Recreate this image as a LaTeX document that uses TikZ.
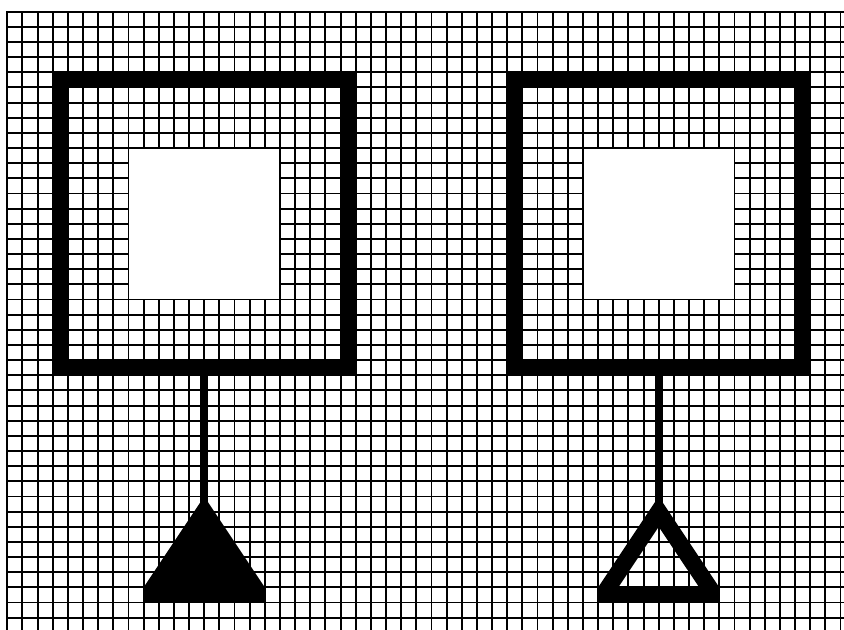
\documentclass[tikz,border=0pt]{standalone}
\usetikzlibrary{positioning}
\tikzset{gridline/.style={line width=1.8pt,black,line cap=rect},
  frame/.style={draw=black,line width=0.5cm,minimum size=9.5cm,inner sep=0pt},
  window/.style={draw=black,fill=white,line width=1.8pt,minimum size=5cm,inner sep=0pt},
  stem/.style={line width=0.25cm,black},
  weight/.style={fill=black,even odd rule}}

\begin{document}
\begin{tikzpicture}[x=0.5cm, y=-0.5cm]
\useasboundingbox (-0.48,-0.77) rectangle (55.23,40.81);
% squared paper
\foreach \c in {0,...,55} \draw[gridline] (\c,0) -- (\c,41.5);
\foreach \r in {0,...,41} \draw[gridline] (0,\r) -- (56,\r);
% left: box with filled weight
\node[window] (winL) at (13,14) {};
\node[frame] (boxL) at (13,14) {};
\coordinate (tipL) at (13,32.4);
\draw[stem] (boxL.south) -- (tipL);
\fill[weight] (9,39) -- (9,38) -- (13,32) -- (17,38) -- (17,39) -- cycle;
% right: box with open weight
\node[window] (winR) at (43,14) {};
\node[frame] (boxR) at (43,14) {};
\coordinate (tipR) at (43,32.4);
\draw[stem] (boxR.south) -- (tipR);
\fill[weight] (39,39) -- (39,38) -- (43,32) -- (47,38) -- (47,39) -- cycle
  (40.33,38) -- (43,34) -- (45.67,38) -- cycle;
\end{tikzpicture}
\end{document}
